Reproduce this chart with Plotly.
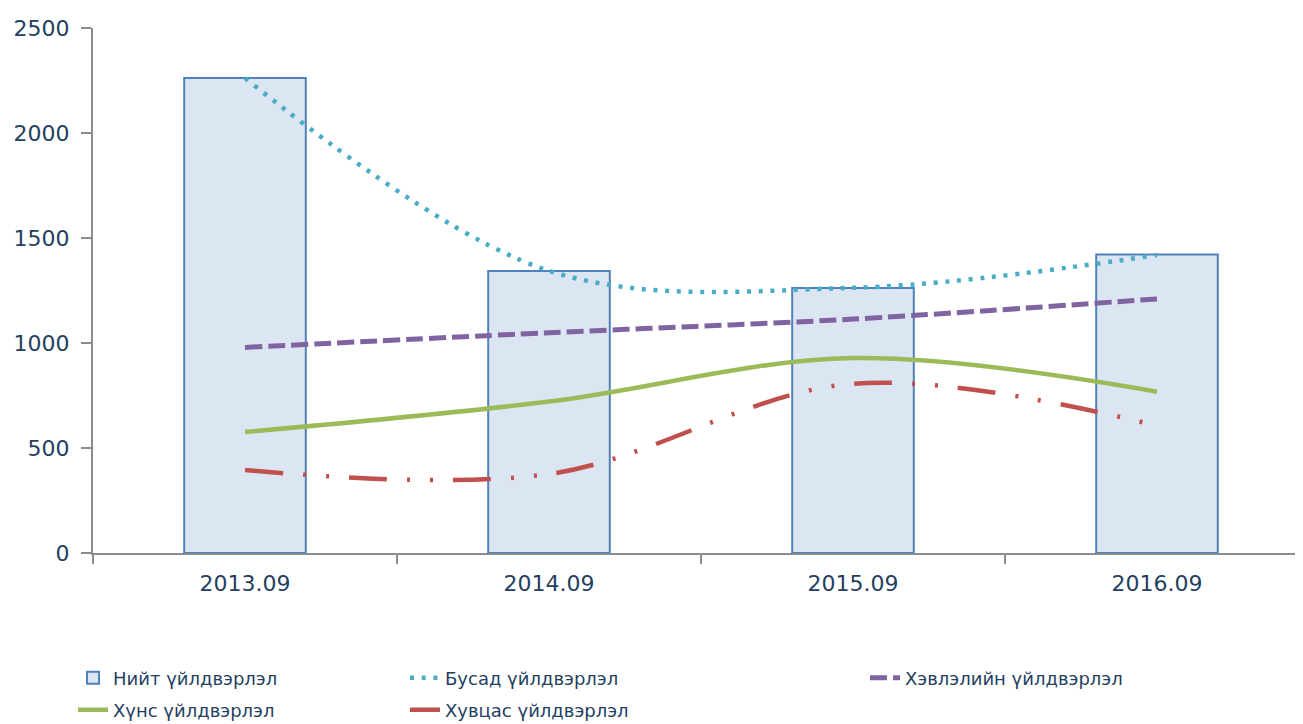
import plotly.graph_objects as go

categories = ["2013.09", "2014.09", "2015.09", "2016.09"]
niit = [2262, 1343, 1262, 1421]
busad = [2262, 1344, 1263, 1419]
hevleliin = [979, 1049, 1114, 1210]
huns = [576, 721, 928, 768]
huvtsas = [395, 376, 806, 606]
y_ticks = [0, 500, 1000, 1500, 2000, 2500]

FONT = "DejaVu Sans"
TXT = "#243F60"

fig = go.Figure()
fig.add_trace(go.Bar(
    x=categories, y=niit, name="Нийт үйлдвэрлэл", width=0.4,
    marker=dict(color="#DCE6F2", line=dict(color="#4F81BD", width=2)),
    showlegend=True, legend="legend"))
fig.add_trace(go.Scatter(
    x=categories, y=busad, name="Бусад үйлдвэрлэл", mode="lines",
    line=dict(color="#4BACC6", width=4.5, dash="4px,7.7px", shape="spline"),
    showlegend=True, legend="legend2"))
fig.add_trace(go.Scatter(
    x=categories, y=hevleliin, name="Хэвлэлийн үйлдвэрлэл", mode="lines",
    line=dict(color="#8064A2", width=5, dash="17px,6px", shape="spline"),
    showlegend=True, legend="legend3"))
fig.add_trace(go.Scatter(
    x=categories, y=huns, name="Хүнс үйлдвэрлэл", mode="lines",
    line=dict(color="#9BBB59", width=4.5, shape="spline"),
    showlegend=True, legend="legend4"))
fig.add_trace(go.Scatter(
    x=categories, y=huvtsas, name="Хувцас үйлдвэрлэл", mode="lines",
    line=dict(color="#C0504D", width=4.5, dash="38px,20px,3px,20px,3px,20px",
              shape="spline"),
    showlegend=True, legend="legend5"))

# page has an 8px body offset; compensate so the plot lands where the reference has it
OFF = 8
W, H = 1303 - OFF, 724 - OFF
L, R, T = 93 - OFF, 0, 28 - OFF
B = H - T - 525
pw, ph = W - L - R, H - T - B

def lx(px):
    return (px - OFF - L) / pw

def ly(py):
    return (H - B - (py - OFF)) / ph

leg_common = dict(orientation="v", xanchor="left", yanchor="middle",
                  bgcolor="rgba(0,0,0,0)", font=dict(family=FONT, size=18, color=TXT))

fig.update_layout(
    width=W, height=H,
    margin=dict(l=L, r=R, t=T, b=B, autoexpand=False),
    plot_bgcolor="white", paper_bgcolor="white",
    showlegend=True,
    font=dict(family=FONT, color=TXT),
    legend=dict(leg_common, x=lx(73), y=ly(678)),
    legend2=dict(leg_common, x=lx(405), y=ly(678)),
    legend3=dict(leg_common, x=lx(865), y=ly(678)),
    legend4=dict(leg_common, x=lx(73), y=ly(710)),
    legend5=dict(leg_common, x=lx(405), y=ly(710)),
    xaxis=dict(
        type="category", range=[-0.5, 3.5 - 6 / 304], automargin=False,
        showline=True, linecolor="#8C8C8C", linewidth=2,
        ticks="outside", tickson="boundaries", ticklen=9, tickcolor="#8C8C8C",
        tickwidth=2, showgrid=False, zeroline=False,
        tickfont=dict(family=FONT, size=22, color=TXT), ticklabelstandoff=10),
    yaxis=dict(
        range=[0, 2500], tickvals=y_ticks, automargin=False,
        showline=True, linecolor="#8C8C8C", linewidth=2,
        ticks="outside", ticklen=10, tickcolor="#8C8C8C", tickwidth=2,
        showgrid=False, zeroline=False,
        tickfont=dict(family=FONT, size=22, color=TXT), ticklabelstandoff=7),
)

fig.write_html("out.html")
